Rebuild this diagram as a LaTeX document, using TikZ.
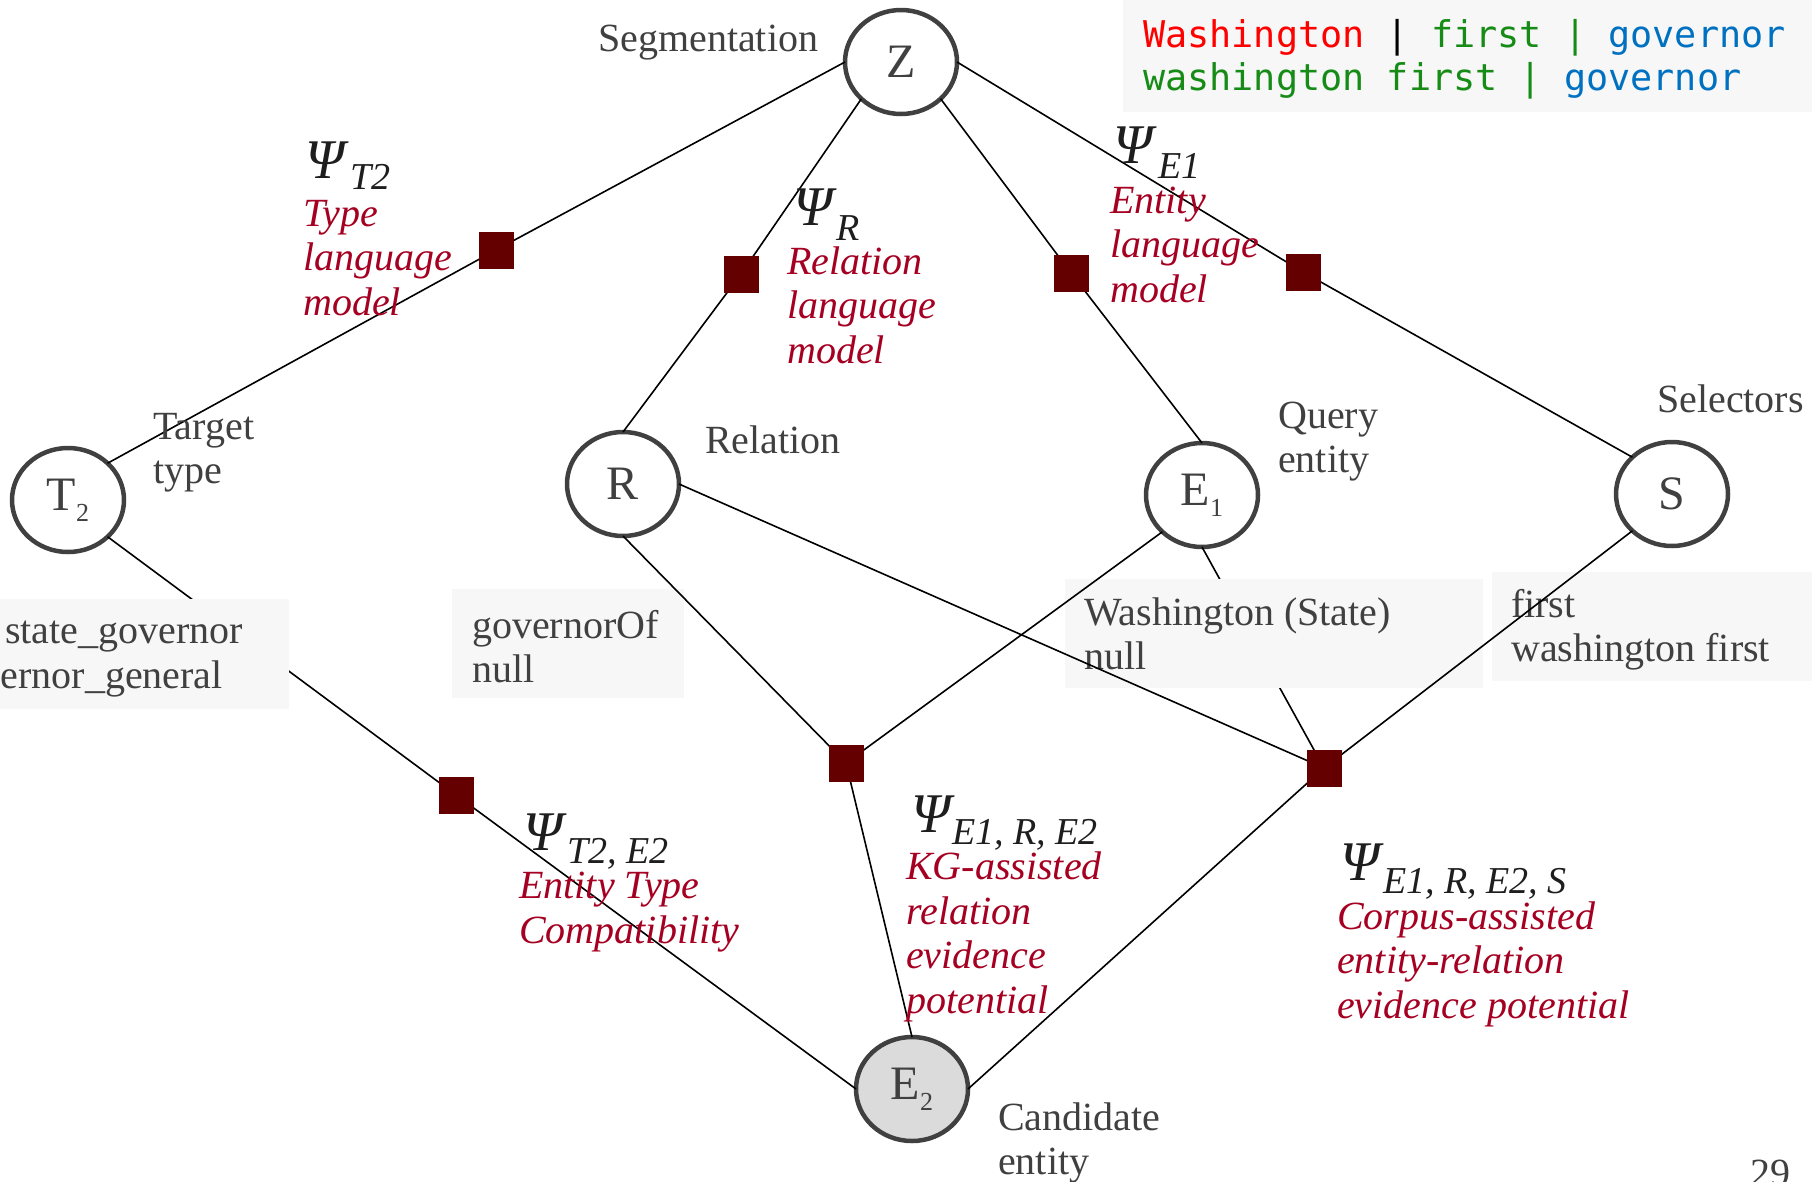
\documentclass[tikz,border=0pt]{standalone}
\usepackage{fontspec}
\setmainfont{Liberation Serif}
\newfontfamily\codefont{DejaVu Sans Mono}
\usetikzlibrary{shapes.geometric}

\definecolor{nodegray}{HTML}{404040}
\definecolor{txtgray}{HTML}{404040}
\definecolor{descred}{HTML}{A50021}
\definecolor{factorred}{HTML}{640000}
\definecolor{boxgray}{HTML}{F7F7F7}
\definecolor{codered}{HTML}{FF0000}
\definecolor{codegreen}{HTML}{168C16}
\definecolor{codeblue}{HTML}{0070C0}
\definecolor{psiblack}{HTML}{1E1E1E}

\tikzset{
  var/.style={ellipse, draw=nodegray, line width=4.5pt, fill=white,
    minimum width=112pt, minimum height=104pt, inner sep=0pt, outer sep=0pt,
    text=nodegray, font=\fontsize{48}{48}\selectfont},
  observed/.style={var, fill=black!14},
  factor/.style={rectangle, fill=factorred, minimum width=35pt,
    minimum height=37pt, inner sep=0pt},
  link/.style={line width=1.6pt, black},
  % multi-line texts are placed by the baseline of their last line
  lbl/.style={anchor=base west, inner sep=0pt, text=txtgray, align=left,
    font=\fontsize{40}{44}\selectfont},
  desc/.style={anchor=base west, inner sep=0pt, text=descred, align=left,
    font=\fontsize{40}{44.5}\selectfont\itshape},
  psi/.style={anchor=base west, inner sep=0pt, text=psiblack,
    font=\fontsize{56}{56}\selectfont\itshape},
  psisub/.style={anchor=base west, inner sep=0pt, text=psiblack,
    font=\fontsize{38}{38}\selectfont\itshape},
  valbox/.style={fill=boxgray, anchor=north west, inner sep=0pt},
  codeline/.style={anchor=base west, inner sep=0pt,
    font=\fontsize{36.8}{36.8}\selectfont\codefont}
}

\newcommand{\varsub}[2]{#1\raisebox{-11pt}{\fontsize{26}{26}\selectfont #2}}

\begin{document}
\begin{tikzpicture}[x=1pt, y=-1pt]
\useasboundingbox (0,0) rectangle (1812,1181);

% factor positions
\coordinate (fT2)   at (496,250);
\coordinate (fR)    at (741,274);
\coordinate (fE1)   at (1071,273);
\coordinate (fS)    at (1303,272);
\coordinate (fTE)   at (456,795);
\coordinate (fERE)  at (846,763);
\coordinate (fERES) at (1324,768);

% variables
\node[var] (Z)  at (901,62)  {Z};
\node[var] (T2) at (68,500)  {\varsub{T}{2}};
\node[var] (R)  at (623,484) {R};
\node[var] (E1) at (1202,495) {\varsub{E}{1}};
\node[var] (S)  at (1672,494) {S};
\node[observed] (E2) at (912,1089) {\varsub{E}{2}};

% links passing beneath the value boxes
\draw[link] (T2.south east) -- (fTE);
\draw[link] (E1.south) -- (fERES);

% value boxes
\node[valbox, minimum width=309pt, minimum height=110pt] (bT) at (-20,599) {};
\node[lbl, anchor=base east] (bTa) at (243,643) {state\_governor};
\node[lbl, anchor=base east] (bTb) at (223,688) {ernor\_general};

\node[valbox, minimum width=232pt, minimum height=109pt] (bR) at (452,589) {};
\node[lbl] (bRt) at (472,682) {governorOf\\null};

\node[valbox, minimum width=418pt, minimum height=109pt] (bE) at (1065,579) {};
\node[lbl] (bEt) at (1084,669) {Washington (State)\\null};

\node[valbox, minimum width=330pt, minimum height=109pt] (bS) at (1492,572) {};
\node[lbl] (bSt) at (1511,661) {first\\washington first};

% segmentation box
\node[valbox, minimum width=700pt, minimum height=117pt] (bZ) at (1123,-5) {};
\node[codeline] (cz1) at (1143,47) {\textcolor{codered}{Washington} | \textcolor{codegreen}{first | }\textcolor{codeblue}{governor}};
\node[codeline] (cz2) at (1143,90) {\textcolor{codegreen}{washington first | }\textcolor{codeblue}{governor}};

% remaining links
\draw[link] (Z.west) -- (fT2) -- (T2.north east);
\draw[link] (Z.south west) -- (fR) -- (R.north);
\draw[link] (Z.south east) -- (fE1) -- (E1.north);
\draw[link] (Z.east) -- (fS) -- (S.north west);
\draw[link] (fTE) -- (E2.west);
\draw[link] (R.south) -- (fERE);
\draw[link] (E1.south west) -- (fERE);
\draw[link] (fERE) -- (E2.north);
\draw[link] (R.east) -- (fERES);
\draw[link] (S.south west) -- (fERES);
\draw[link] (fERES) -- (E2.east);

% factors
\node[factor] (qT2)   at (fT2) {};
\node[factor] (qR)    at (fR) {};
\node[factor] (qE1)   at (fE1) {};
\node[factor] (qS)    at (fS) {};
\node[factor] (qTE)   at (fTE) {};
\node[factor] (qERE)  at (fERE) {};
\node[factor] (qERES) at (fERES) {};

% variable names
\node[lbl] (lZ)  at (598,51)  {Segmentation};
\node[lbl] (lT)  at (153,483) {Target\\type};
\node[lbl] (lR)  at (705,453) {Relation};
\node[lbl] (lE1) at (1278,472) {Query\\entity};
\node[lbl] (lS)  at (1657,412) {Selectors};
\node[lbl] (lE2) at (998,1174) {Candidate\\entity};

% potentials
\node[psi] (pT2) at (305,178) {Ψ};
\node[psisub] (sT2) at (350,189) {T2};
\node[desc] (dT2) at (303,315) {Type\\language\\model};

\node[psi] (pR) at (793,225) {Ψ};
\node[psisub] (sR) at (836,240) {R};
\node[desc] (dR) at (787,363) {Relation\\language\\model};

\node[psi] (pE1) at (1113,163) {Ψ};
\node[psisub] (sE1) at (1158,178) {E1};
\node[desc] (dE1) at (1110,302) {Entity\\language\\model};

\node[psi] (pTE) at (523,850) {Ψ};
\node[psisub] (sTE) at (567,863) {T2, E2};
\node[desc] (dTE) at (519,943) {Entity Type\\Compatibility};

\node[psi] (pERE) at (911,832) {Ψ};
\node[psisub] (sERE) at (952,844) {E1, R, E2};
\node[desc] (dERE) at (906,1013) {KG-assisted\\relation\\evidence\\potential};

\node[psi] (pERES) at (1340,880) {Ψ};
\node[psisub] (sERES) at (1383,893) {E1, R, E2, S};
\node[desc] (dERES) at (1337,1018) {Corpus-assisted\\entity-relation\\evidence potential};

% page number
\node[lbl] (pg) at (1750,1186) {29};
\end{tikzpicture}
\end{document}
